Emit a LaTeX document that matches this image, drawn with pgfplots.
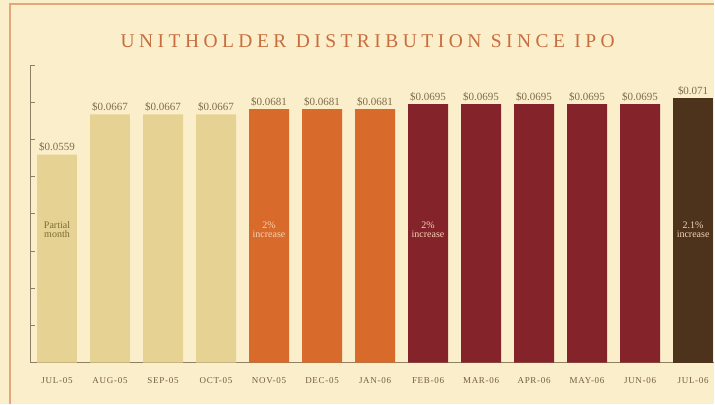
\documentclass[border=0pt]{standalone}
\usepackage{fontspec}
\setmainfont{Liberation Serif}
\usepackage{pgfplots}
\pgfplotsset{compat=1.18}
\definecolor{bg}{HTML}{FBEECB}
\definecolor{frame}{HTML}{E3A77A}
\definecolor{ttl}{HTML}{C86D3E}
\definecolor{lightbar}{HTML}{E6D393}
\definecolor{orangebar}{HTML}{D86B2B}
\definecolor{redbar}{HTML}{85232A}
\definecolor{brownbar}{HTML}{4D331C}
\definecolor{lbl}{HTML}{806C4A}
\definecolor{catlbl}{HTML}{725F40}
\definecolor{axiscol}{HTML}{8E8063}
\definecolor{inlight}{HTML}{7A6A35}
\definecolor{inpale}{HTML}{F6D2B4}
\begin{document}
\begin{tikzpicture}
\fill[bg] (0pt,0pt) rectangle (715pt,404pt);
\draw[frame, line width=1.3pt] (10pt,0pt) -- (10pt,400pt) -- (715pt,400pt);
\node[text=ttl, font=\fontsize{19.5}{21}\selectfont\addfontfeature{LetterSpace=23}] at (368pt,363pt) {UNITHOLDER DISTRIBUTION SINCE IPO};
\begin{axis}[
  at={(30pt,41pt)}, anchor=south west,
  scale only axis, width=685pt, height=298pt,
  xmin=-0.51, xmax=12.4, ymin=0, ymax=0.08,
  scaled y ticks=false,
  ybar, bar width=40pt, bar shift=0pt,
  axis x line*=bottom, axis y line*=left,
  x axis line style={-, line width=1.4pt, color=axiscol},
  y axis line style={-, line width=0.6pt, color=axiscol},
  xtick={0,...,12},
  xticklabels={JUL-05,AUG-05,SEP-05,OCT-05,NOV-05,DEC-05,JAN-06,FEB-06,MAR-06,APR-06,MAY-06,JUN-06,JUL-06},
  xticklabel style={font=\fontsize{9}{10}\selectfont\addfontfeature{LetterSpace=8}, text=catlbl, yshift=-11pt},
  x tick style={draw=none},
  extra x ticks={0.5,1.5,...,11.5},
  extra x tick labels={},
  extra x tick style={tick style={draw=axiscol!60, line width=0.5pt}, major tick length=7pt, tick align=inside},
  ytick={0,0.01,...,0.08},
  yticklabels={},
  y tick style={draw=axiscol, line width=0.6pt},
  tick align=inside, major tick length=5pt,
  nodes near coords, point meta=explicit symbolic,
  every node near coord/.append style={font=\fontsize{11}{12}\selectfont, text=lbl, yshift=-0.5pt},
  clip=false,
]
\addplot[fill=lightbar, draw=none] coordinates {(0,0.0559) [\$0.0559] (1,0.0667) [\$0.0667] (2,0.0667) [\$0.0667] (3,0.0667) [\$0.0667]};
\addplot[fill=orangebar, draw=none] coordinates {(4,0.0681) [\$0.0681] (5,0.0681) [\$0.0681] (6,0.0681) [\$0.0681]};
\addplot[fill=redbar, draw=none] coordinates {(7,0.0695) [\$0.0695] (8,0.0695) [\$0.0695] (9,0.0695) [\$0.0695] (10,0.0695) [\$0.0695] (11,0.0695) [\$0.0695]};
\addplot[fill=brownbar, draw=none] coordinates {(12,0.071) [\$0.071]};
\node[align=center, text=inlight, font=\fontsize{10}{9.5}\selectfont] at (axis cs:0,0.0357) {Partial\\month};
\node[align=center, text=inpale, font=\fontsize{10}{9.5}\selectfont] at (axis cs:4,0.0357) {2\%\\increase};
\node[align=center, text=inpale, font=\fontsize{10}{9.5}\selectfont] at (axis cs:7,0.0357) {2\%\\increase};
\node[align=center, text=inpale, font=\fontsize{10}{9.5}\selectfont] at (axis cs:12,0.0357) {2.1\%\\increase};
\end{axis}
\end{tikzpicture}
\end{document}
